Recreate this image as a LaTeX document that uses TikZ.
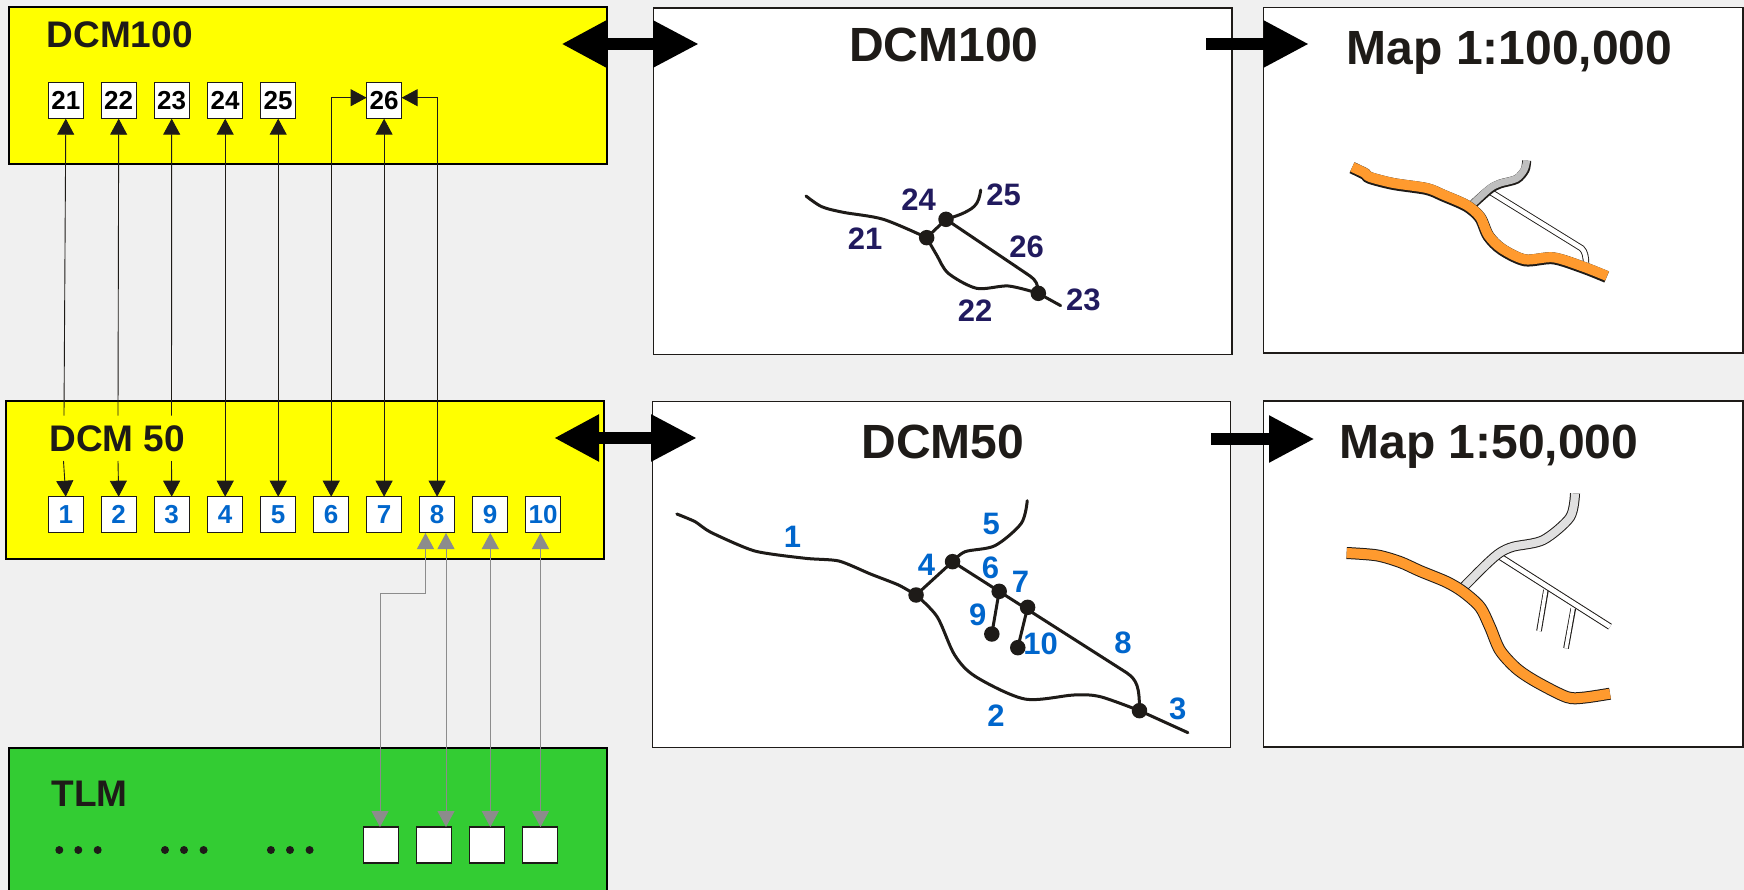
\documentclass[tikz,border=0pt]{standalone}
\usepackage{fontspec}
\setmainfont{Liberation Sans}
\usetikzlibrary{arrows.meta,calc}
\definecolor{bgc}{HTML}{F0F0F0}
\definecolor{inkc}{HTML}{1E1B18}
\definecolor{bluec}{HTML}{0066CC}
\definecolor{navyc}{HTML}{211A5E}
\definecolor{greenc}{HTML}{33CC33}
\definecolor{orangec}{HTML}{FF9A2E}
\definecolor{grayarr}{HTML}{8C8C8C}
\definecolor{yelc}{RGB}{255,255,0}
\newcommand{\fsz}[1]{\bfseries\fontsize{#1}{#1}\selectfont}
\tikzset{
  layer/.style={draw=black,line width=2pt,outer sep=0pt,inner sep=0pt},
  panel/.style={draw=inkc,line width=1.5pt,fill=white,outer sep=0pt,inner sep=0pt},
  sbox/.style={draw=inkc,line width=1.2pt,fill=white,outer sep=0pt,inner sep=0pt,minimum width=35pt,minimum height=36pt,font=\fsz{26}},
  ttl/.style={anchor=base west,inner sep=0pt,outer sep=0pt,text=inkc,font=\fsz{37}},
  ptitle/.style={anchor=base,inner sep=0pt,outer sep=0pt,text=inkc},
  blk/.style={draw=inkc,line width=0.9pt,-{Triangle[length=16pt,width=17pt]}},
  blkb/.style={draw=inkc,line width=0.9pt,{Triangle[length=16pt,width=17pt]}-{Triangle[length=16pt,width=17pt]}},
  gry/.style={draw=grayarr,line width=1pt,{Triangle[length=16pt,width=17pt]}-{Triangle[length=16pt,width=17pt]}},
  bigd/.style={draw=black,line width=12pt,{Triangle[length=45pt,width=44pt]}-{Triangle[length=46pt,width=44pt]}},
  bigs/.style={draw=black,line width=12pt,-{Triangle[length=45.5pt,width=44pt]}},
  road/.style={draw=inkc,line width=3pt,line cap=round,line join=round},
  jn/.style={circle,fill=inkc,inner sep=0pt,minimum size=15.5pt,outer sep=0pt},
  nlab/.style={text=navyc,font=\fsz{31},inner sep=0pt},
  blab/.style={text=bluec,font=\fsz{31},inner sep=0pt},
  dotm/.style={circle,fill=inkc,inner sep=0pt,minimum size=8pt},
}
\begin{document}
\begin{tikzpicture}[x=1pt,y=-1pt]
\useasboundingbox (0,0) rectangle (1744,890);
\clip (0,0) rectangle (1744,890);
\fill[bgc] (0,0) rectangle (1744,890);

% layer boxes
\node[layer,fill=yelc,minimum width=598pt,minimum height=157pt] (dcmH) at (307.6,85.5) {};
\node[layer,fill=yelc,minimum width=598pt,minimum height=158pt] (dcmF) at (305.2,480) {};
\node[layer,fill=greenc,minimum width=598pt,minimum height=160pt] (tlm) at (307.8,828) {};
\node[ttl] (tH) at (46.7,48) {DCM100};
\node[ttl] (tF) at (49.5,451.7) {DCM 50};
\node[ttl] (tT) at (51.5,806.7) {TLM};

% panels
\node[panel,minimum width=578.7pt,minimum height=346.5pt] (pH) at (942.6,181.25) {};
\node[panel,minimum width=578pt,minimum height=346pt] (pF) at (941.3,574.7) {};
\node[panel,minimum width=479.5pt,minimum height=345.5pt] (mH) at (1503.25,180.25) {};
\node[panel,minimum width=479.5pt,minimum height=346pt] (mF) at (1503.25,574) {};
\node[ptitle,font=\fsz{48}] (ptH) at (944,62) {DCM100};
\node[ptitle,font=\fsz{48}] (ptF) at (943,458.3) {DCM50};
\node[ptitle,font=\fsz{48}] (mtH) at (1509.5,65) {Map 1:100,000};
\node[ptitle,font=\fsz{48}] (mtF) at (1489,458) {Map 1:50,000};

% small boxes DCM100
\node[sbox,text=black] (s21) at (65.8,100.7) {21};
\node[sbox,text=black] (s22) at (118.7,100.7) {22};
\node[sbox,text=black] (s23) at (171.7,100.7) {23};
\node[sbox,text=black] (s24) at (225.2,100.7) {24};
\node[sbox,text=black] (s25) at (278.2,100.7) {25};
\node[sbox,text=black] (s26) at (384.1,100.7) {26};
% small boxes DCM50
\node[sbox,text=bluec] (d1) at (65.8,514.7) {1};
\node[sbox,text=bluec] (d2) at (118.7,514.7) {2};
\node[sbox,text=bluec] (d3) at (171.7,514.7) {3};
\node[sbox,text=bluec] (d4) at (225.2,514.7) {4};
\node[sbox,text=bluec] (d5) at (278.2,514.7) {5};
\node[sbox,text=bluec] (d6) at (331.2,514.7) {6};
\node[sbox,text=bluec] (d7) at (384.1,514.7) {7};
\node[sbox,text=bluec] (d8) at (437.1,514.7) {8};
\node[sbox,text=bluec] (d9) at (490.1,514.7) {9};
\node[sbox,text=bluec] (d10) at (543,514.7) {10};
% TLM boxes
\node[sbox] (t1) at (381,845) {};
\node[sbox] (t2) at (434,845) {};
\node[sbox] (t3) at (486.8,845) {};
\node[sbox] (t4) at (539.8,845) {};
% dots
\foreach \n/\xx in {a/59.3,b/78.3,c/97.7,d/165,e/184,f/203.6,g/270.9,h/290,i/309.6}
  \node[dotm] (dot\n) at (\xx,850) {};

% thin black connectors
\coordinate (c1) at (64,415.7); \coordinate (c1b) at (63.5,461);
\coordinate (c2) at (118,415.7); \coordinate (c2b) at (118,461);
\coordinate (c3) at (171.5,415.7); \coordinate (c3b) at (171.5,461);
\draw[blk] (c1) -- (s21.south);
\draw[blk] (c2) -- (s22.south);
\draw[blk] (c3) -- (s23.south);
\draw[blk] (c1b) -- (d1.north);
\draw[blk] (c2b) -- (d2.north);
\draw[blk] (c3b) -- (d3.north);
\draw[blkb] (d4.north) -- (s24.south);
\draw[blkb] (d5.north) -- (s25.south);
\draw[blkb] (d7.north) -- (s26.south);
\draw[blkb] (d6.north) |- ([yshift=3pt]s26.west);
\draw[blkb] (d8.north) |- ([yshift=3pt]s26.east);

% gray connectors
\coordinate (g8) at (425.5,533);
\coordinate (g8b) at (446,533);
\coordinate (g9) at (490.3,533);
\coordinate (g10) at (540.5,533);
\coordinate (gt1) at (380,827);
\coordinate (gt2) at (446,827);
\coordinate (gt3) at (490.3,827);
\coordinate (gt4) at (540.5,827);
\coordinate (gm1) at (425.5,593);
\coordinate (gm2) at (380,593);
\draw[gry] (g8) -- (gm1) -- (gm2) -- (gt1);
\draw[gry] (g8b) -- (gt2);
\draw[gry] (g9) -- (gt3);
\draw[gry] (g10) -- (gt4);

% big arrows
\coordinate (bH1) at (561.4,44); \coordinate (bH2) at (699,44);
\coordinate (bF1) at (554,438); \coordinate (bF2) at (697,438);
\coordinate (mH1) at (1206,44); \coordinate (mH2) at (1309,44);
\coordinate (mF1) at (1211,439); \coordinate (mF2) at (1314.5,439);
\draw[bigd] (bH1) -- (bH2);
\draw[bigd] (bF1) -- (bF2);
\draw[bigs] (mH1) -- (mH2);
\draw[bigs] (mF1) -- (mF2);

% DCM100 schematic
\begin{scope}[xshift=760pt,yshift=-160pt,x=0.33333pt,y=-0.33333pt]
\draw[road] plot[smooth,tension=0.5] coordinates {(138,108)(185,140)(250,157)(370,178)(500,233)};
\draw[road] (500,233) -- (558,178);
\draw[road] plot[smooth,tension=0.7] coordinates {(558,178)(615,157)(650,130)(662,90)};
\draw[road] (558,178) -- (810,348) .. controls (828,360) and (835,375) .. (835,400);
\draw[road] plot[smooth,tension=0.5] coordinates {(500,233)(530,285)(565,340)(650,385)(745,378)(835,400)};
\draw[road] (835,400) -- (902,437);
\node[jn] (a1) at (500,233) {};
\node[jn] (a2) at (558,178) {};
\node[jn] (a3) at (835,400) {};
\node[nlab] (l24) at (476,118) {24};
\node[nlab] (l25) at (731,105) {25};
\node[nlab] (l21) at (315,237) {21};
\node[nlab] (l26) at (800,260) {26};
\node[nlab] (l22) at (645,453) {22};
\node[nlab] (l23) at (970,420) {23};
\end{scope}

% DCM50 schematic
\begin{scope}[xshift=660pt,yshift=-480pt,x=0.35075pt,y=-0.33333pt]
\draw[road] plot[smooth,tension=0.4] coordinates {(48,102)(100,125)(145,157)(270,213)(415,235)(510,243)(600,282)(680,315)(730,345)};
\draw[road] (730,345) -- (834,245);
\draw[road] plot[smooth,tension=0.5] coordinates {(834,245)(870,215)(955,197)(1030,130)(1047,62)};
\draw[road] (834,245) -- (1330,578) .. controls (1360,600) and (1367,620) .. (1367,692);
\draw[road] plot[smooth,tension=0.5] coordinates {(730,345)(790,410)(840,525)(900,590)(1040,657)(1180,645)(1255,650)(1367,692)};
\draw[road] (1367,692) -- (1505,758);
\draw[road] (967,334) -- (946,462);
\draw[road] (1048,382) -- (1020,503);
\node[jn] (b4) at (730,345) {};
\node[jn] (b5) at (834,245) {};
\node[jn] (b6) at (967,334) {};
\node[jn] (b7) at (1048,382) {};
\node[jn] (b9) at (946,462) {};
\node[jn] (b10) at (1020,503) {};
\node[jn] (b3) at (1367,692) {};
\node[blab] (n1) at (378,172) {1};
\node[blab] (n5) at (944,132) {5};
\node[blab] (n4) at (760,255) {4};
\node[blab] (n6) at (942,262) {6};
\node[blab] (n7) at (1028,305) {7};
\node[blab] (n9) at (906,405) {9};
\node[blab] (n10) at (1085,490) {10};
\node[blab] (n8) at (1320,487) {8};
\node[blab] (n2) at (958,708) {2};
\node[blab] (n3) at (1476,688) {3};
\end{scope}

% Map 1:100,000
\begin{scope}[xshift=1320pt,yshift=-140pt,x=0.33333pt,y=-0.33333pt]
\path[draw=inkc,line width=6.4pt,line join=round] (515,158) -- (785,325) .. controls (795,335) and (798,350) .. (798,372);
\path[draw=white,line width=4.6pt,line join=round] (515,158) -- (785,325) .. controls (795,335) and (798,350) .. (798,372);
\draw[inkc,line width=9pt] plot[smooth,tension=0.5] coordinates {(460,192)(510,148)(540,132)(590,118)(615,90)(620,62)};
\draw[color=black!25,line width=7pt] plot[smooth,tension=0.5] coordinates {(458,192)(508,146)(538,130)(588,116)(612,90)(620,62)};
\draw[inkc,line width=12pt] plot[smooth,tension=0.5] coordinates {(96,83)(135,102)(150,114)(220,132)(320,147)(370,167)(440,198)(480,233)(505,288)(545,328)(615,361)(700,355)(790,383)(860,411)};
\draw[orangec,line width=10pt] plot[smooth,tension=0.5] coordinates {(97,81)(135,99)(150,111)(220,129)(320,144)(370,164)(440,195)(480,230)(505,285)(545,325)(615,358)(700,352)(790,380)(861,408)};
\end{scope}

% Map 1:50,000
\begin{scope}[xshift=1320pt,yshift=-480pt,x=0.33333pt,y=-0.33333pt]
\path[draw=inkc,line width=5.6pt] (678,330) -- (657,453);
\path[draw=inkc,line width=5.6pt] (760,385) -- (738,505);
\path[draw=white,line width=3.6pt] (678,325) -- (657,453);
\path[draw=white,line width=3.6pt] (760,380) -- (738,505);
\path[draw=inkc,line width=6.6pt] (540,230) -- (870,440);
\path[draw=white,line width=4.6pt] (540,230) -- (870,440);
\draw[inkc,line width=10pt] plot[smooth,tension=0.5] coordinates {(430,322)(500,252)(540,218)(580,200)(670,180)(750,112)(765,40)};
\draw[color=black!12,line width=8pt] plot[smooth,tension=0.5] coordinates {(430,322)(500,252)(540,218)(580,200)(670,180)(750,112)(765,40)};
\draw[inkc,line width=12pt] plot[smooth,tension=0.5] coordinates {(80,219)(170,226)(240,246)(300,273)(380,306)(430,336)(480,381)(510,441)(540,511)(590,566)(650,606)(740,651)(790,653)(870,641)};
\draw[orangec,line width=10pt] plot[smooth,tension=0.5] coordinates {(80,219)(170,226)(240,246)(300,273)(380,306)(430,336)(480,381)(510,441)(540,511)(590,566)(650,606)(740,651)(790,653)(870,641)};
\end{scope}
\end{tikzpicture}
\end{document}
